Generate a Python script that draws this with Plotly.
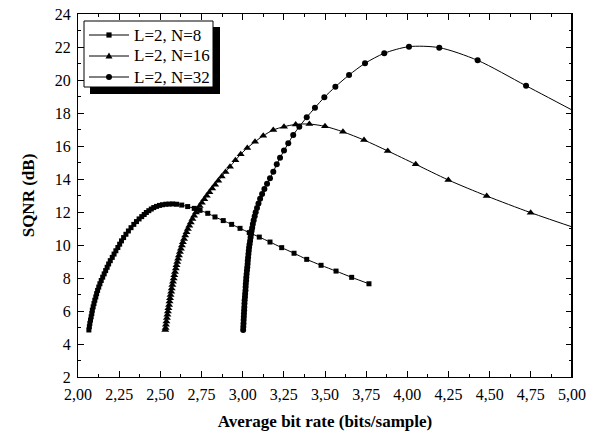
import plotly.graph_objects as go

# ---- data ----
n8_x = [2.066, 2.069, 2.072, 2.076, 2.080, 2.084, 2.087, 2.092, 2.097, 2.102,
        2.108, 2.113, 2.119, 2.126, 2.133, 2.141, 2.150, 2.159, 2.168, 2.177,
        2.186, 2.196, 2.208, 2.219, 2.230, 2.242, 2.253, 2.264, 2.277, 2.291,
        2.306, 2.322, 2.339, 2.355, 2.371, 2.387, 2.402, 2.415, 2.430, 2.445,
        2.460, 2.477, 2.495, 2.513, 2.533, 2.553, 2.575,
        2.599, 2.630, 2.666, 2.706, 2.741, 2.788, 2.832, 2.882, 2.933, 2.984,
        3.040, 3.101, 3.166, 3.237, 3.312, 3.389, 3.476, 3.567, 3.662, 3.767]
n8_y = [4.85, 5.05, 5.25, 5.45, 5.65, 5.85, 6.05, 6.25, 6.45, 6.65,
        6.85, 7.05, 7.25, 7.45, 7.65, 7.85, 8.05, 8.25, 8.45, 8.65,
        8.85, 9.05, 9.25, 9.45, 9.65, 9.85, 10.05, 10.25, 10.45, 10.65,
        10.85, 11.05, 11.25, 11.42, 11.58, 11.72, 11.85, 11.97, 12.08, 12.18,
        12.27, 12.34, 12.40, 12.44, 12.47, 12.48, 12.49,
        12.47, 12.42, 12.33, 12.22, 12.10, 11.92, 11.70, 11.48, 11.25, 11.01,
        10.75, 10.48, 10.18, 9.84, 9.50, 9.13, 8.77, 8.42, 8.04, 7.65]

n16_x = [2.530, 2.532, 2.534, 2.537, 2.540, 2.543, 2.546, 2.549, 2.553, 2.556,
         2.559, 2.562, 2.566, 2.569, 2.573, 2.577, 2.581, 2.585, 2.589, 2.594,
         2.598, 2.603, 2.608, 2.613, 2.619, 2.625, 2.631, 2.637, 2.644, 2.651,
         2.659, 2.667, 2.676, 2.685, 2.695, 2.705, 2.716, 2.727, 2.739, 2.752,
         2.767, 2.782, 2.798, 2.815, 2.833, 2.852, 2.873, 2.896, 2.923, 2.956,
         2.988, 3.028, 3.075, 3.125, 3.186, 3.251, 3.322, 3.405, 3.500, 3.609,
         3.737, 3.881, 4.051, 4.249, 4.482, 4.749, 5.05]
n16_y = [4.85, 4.97, 5.17, 5.37, 5.57, 5.77, 5.97, 6.17, 6.37, 6.57,
         6.77, 6.97, 7.17, 7.37, 7.57, 7.77, 7.97, 8.17, 8.37, 8.57,
         8.77, 8.97, 9.17, 9.37, 9.57, 9.77, 9.97, 10.17, 10.37, 10.57,
         10.77, 10.97, 11.17, 11.37, 11.57, 11.77, 11.97, 12.16, 12.36, 12.56,
         12.77, 12.98, 13.20, 13.42, 13.65, 13.89, 14.15, 14.43, 14.75, 15.14,
         15.50, 15.88, 16.26, 16.62, 16.97, 17.17, 17.31, 17.33, 17.19, 16.86,
         16.36, 15.70, 14.89, 13.94, 12.97, 11.96, 10.93]

n32_x = [3.003, 3.004, 3.005, 3.006, 3.007, 3.008, 3.009, 3.010, 3.011, 3.012,
         3.014, 3.015, 3.017, 3.018, 3.019, 3.021, 3.022, 3.024, 3.026, 3.028,
         3.030, 3.031, 3.033, 3.035, 3.037, 3.039, 3.042, 3.045, 3.048, 3.051,
         3.054, 3.058, 3.062, 3.067, 3.073, 3.079, 3.087, 3.096, 3.106, 3.118,
         3.132, 3.148, 3.166, 3.186, 3.207, 3.227, 3.251, 3.277, 3.307, 3.344,
         3.389, 3.439, 3.496, 3.563, 3.646, 3.743, 3.860, 4.010, 4.194, 4.427,
         4.721, 5.08]
n32_y = [4.85, 5.05, 5.25, 5.45, 5.65, 5.85, 6.05, 6.25, 6.45, 6.65,
         6.85, 7.05, 7.25, 7.45, 7.65, 7.85, 8.05, 8.25, 8.45, 8.65,
         8.85, 9.05, 9.25, 9.45, 9.65, 9.85, 10.05, 10.25, 10.45, 10.65,
         10.85, 11.05, 11.27, 11.50, 11.74, 11.99, 12.25, 12.52, 12.80, 13.09,
         13.39, 13.71, 14.04, 14.44, 14.89, 15.29, 15.72, 16.16, 16.67, 17.17,
         17.74, 18.32, 18.95, 19.59, 20.30, 21.01, 21.62, 22.02, 21.96, 21.19,
         19.65, 17.76]

names = ["L=2, N=8", "L=2, N=16", "L=2, N=32"]
x_ticks = [2.00, 2.25, 2.50, 2.75, 3.00, 3.25, 3.50, 3.75, 4.00, 4.25, 4.50, 4.75, 5.00]
y_ticks = [2, 4, 6, 8, 10, 12, 14, 16, 18, 20, 22, 24]

assert len(n8_x) == len(n8_y) and len(n16_x) == len(n16_y) and len(n32_x) == len(n32_y)

FONT = "Liberation Serif"
W, H = 592, 431
ML, MR, MT, MB = 78, 20, 14, 54
PW, PH = W - ML - MR, H - MT - MB


def px(x):  # window pixel -> paper x
    return (x - ML) / PW


def py(y):  # window pixel -> paper y
    return (H - MB - y) / PH


fig = go.Figure()
symbols = ["square", "triangle-up", "circle"]
sizes = [5, 7, 6]
for xs, ys, sym, sz, nm in zip([n8_x, n16_x, n32_x], [n8_y, n16_y, n32_y], symbols, sizes, names):
    fig.add_trace(go.Scatter(
        x=xs, y=ys, name=nm, mode="lines+markers", showlegend=False,
        line=dict(color="black", width=1, shape="spline", smoothing=0.8),
        marker=dict(symbol=sym, size=sz, color="black", line=dict(width=0)),
    ))

axis_common = dict(
    showgrid=False, zeroline=False, showline=True, linecolor="black", linewidth=1,
    mirror="allticks", ticks="inside", ticklen=6, tickwidth=1, tickcolor="black",
    tickfont=dict(family=FONT, size=16, color="black"), automargin=False,
    ticklabeloverflow="allow",
)
fig.update_xaxes(
    range=[2, 5], tickvals=x_ticks, tickformat=".2f", ticklabelstandoff=3,
    minor=dict(ticks="inside", ticklen=3, tickcolor="black", dtick=0.125, showgrid=False),
    title=dict(text="<b>Average bit rate (bits/sample)</b>",
               font=dict(family=FONT, size=17, color="black")),
    **axis_common,
)
fig.update_yaxes(
    range=[2, 24], tickvals=y_ticks, ticklabelstandoff=3,
    minor=dict(ticks="inside", ticklen=3, tickcolor="black", dtick=1, showgrid=False),
    title=dict(text="<b>SQNR (dB)</b>",
               font=dict(family=FONT, size=17, color="black")),
    **axis_common,
)

shapes = []
# thicker right frame edge
shapes.append(dict(type="line", xref="paper", yref="paper", x0=1, x1=1, y0=0, y1=1,
                   line=dict(color="black", width=2), layer="above"))
# legend: shadow + box
shapes.append(dict(type="rect", xref="paper", yref="paper",
                   x0=px(90), x1=px(220), y0=py(94), y1=py(27),
                   fillcolor="black", line=dict(width=0), layer="below"))
shapes.append(dict(type="rect", xref="paper", yref="paper",
                   x0=px(84), x1=px(213), y0=py(87), y1=py(21),
                   fillcolor="white", line=dict(color="black", width=1), layer="below"))

rows = [35, 56, 77]
annotations = []
for r, nm, sym in zip(rows, names, symbols):
    shapes.append(dict(type="line", xref="paper", yref="paper",
                       x0=px(89), x1=px(129), y0=py(r), y1=py(r),
                       line=dict(color="black", width=1), layer="below"))
    cx, cy = 109, r
    if sym == "square":
        s = 2.6
        shapes.append(dict(type="rect", xref="paper", yref="paper",
                           x0=px(cx - s), x1=px(cx + s), y0=py(cy + s), y1=py(cy - s),
                           fillcolor="black", line=dict(width=0), layer="below"))
    elif sym == "circle":
        s = 3.0
        shapes.append(dict(type="circle", xref="paper", yref="paper",
                           x0=px(cx - s), x1=px(cx + s), y0=py(cy + s), y1=py(cy - s),
                           fillcolor="black", line=dict(width=0), layer="below"))
    else:
        path = "M {:.5f},{:.5f} L {:.5f},{:.5f} L {:.5f},{:.5f} Z".format(
            px(cx - 3.5), py(cy + 2.6), px(cx + 3.5), py(cy + 2.6), px(cx), py(cy - 3.6))
        shapes.append(dict(type="path", xref="paper", yref="paper", path=path,
                           fillcolor="black", line=dict(width=0), layer="below"))
    annotations.append(dict(xref="paper", yref="paper", x=px(132), y=py(r),
                            xanchor="left", yanchor="middle", showarrow=False,
                            text=nm, font=dict(family=FONT, size=17, color="black")))

fig.update_layout(
    width=W, height=H,
    margin=dict(l=ML, r=MR, t=MT, b=MB),
    paper_bgcolor="white", plot_bgcolor="white",
    separators=", ",
    font=dict(family=FONT, color="black"),
    showlegend=False,
    hovermode=False,
    shapes=shapes,
    annotations=annotations,
)

# remove the page's default 8px body margin so the figure sits at the window origin
fig.write_html("out.html",
               config={"displayModeBar": False, "staticPlot": True},
               post_script="document.body.style.margin='0';document.body.style.overflow='hidden';")
